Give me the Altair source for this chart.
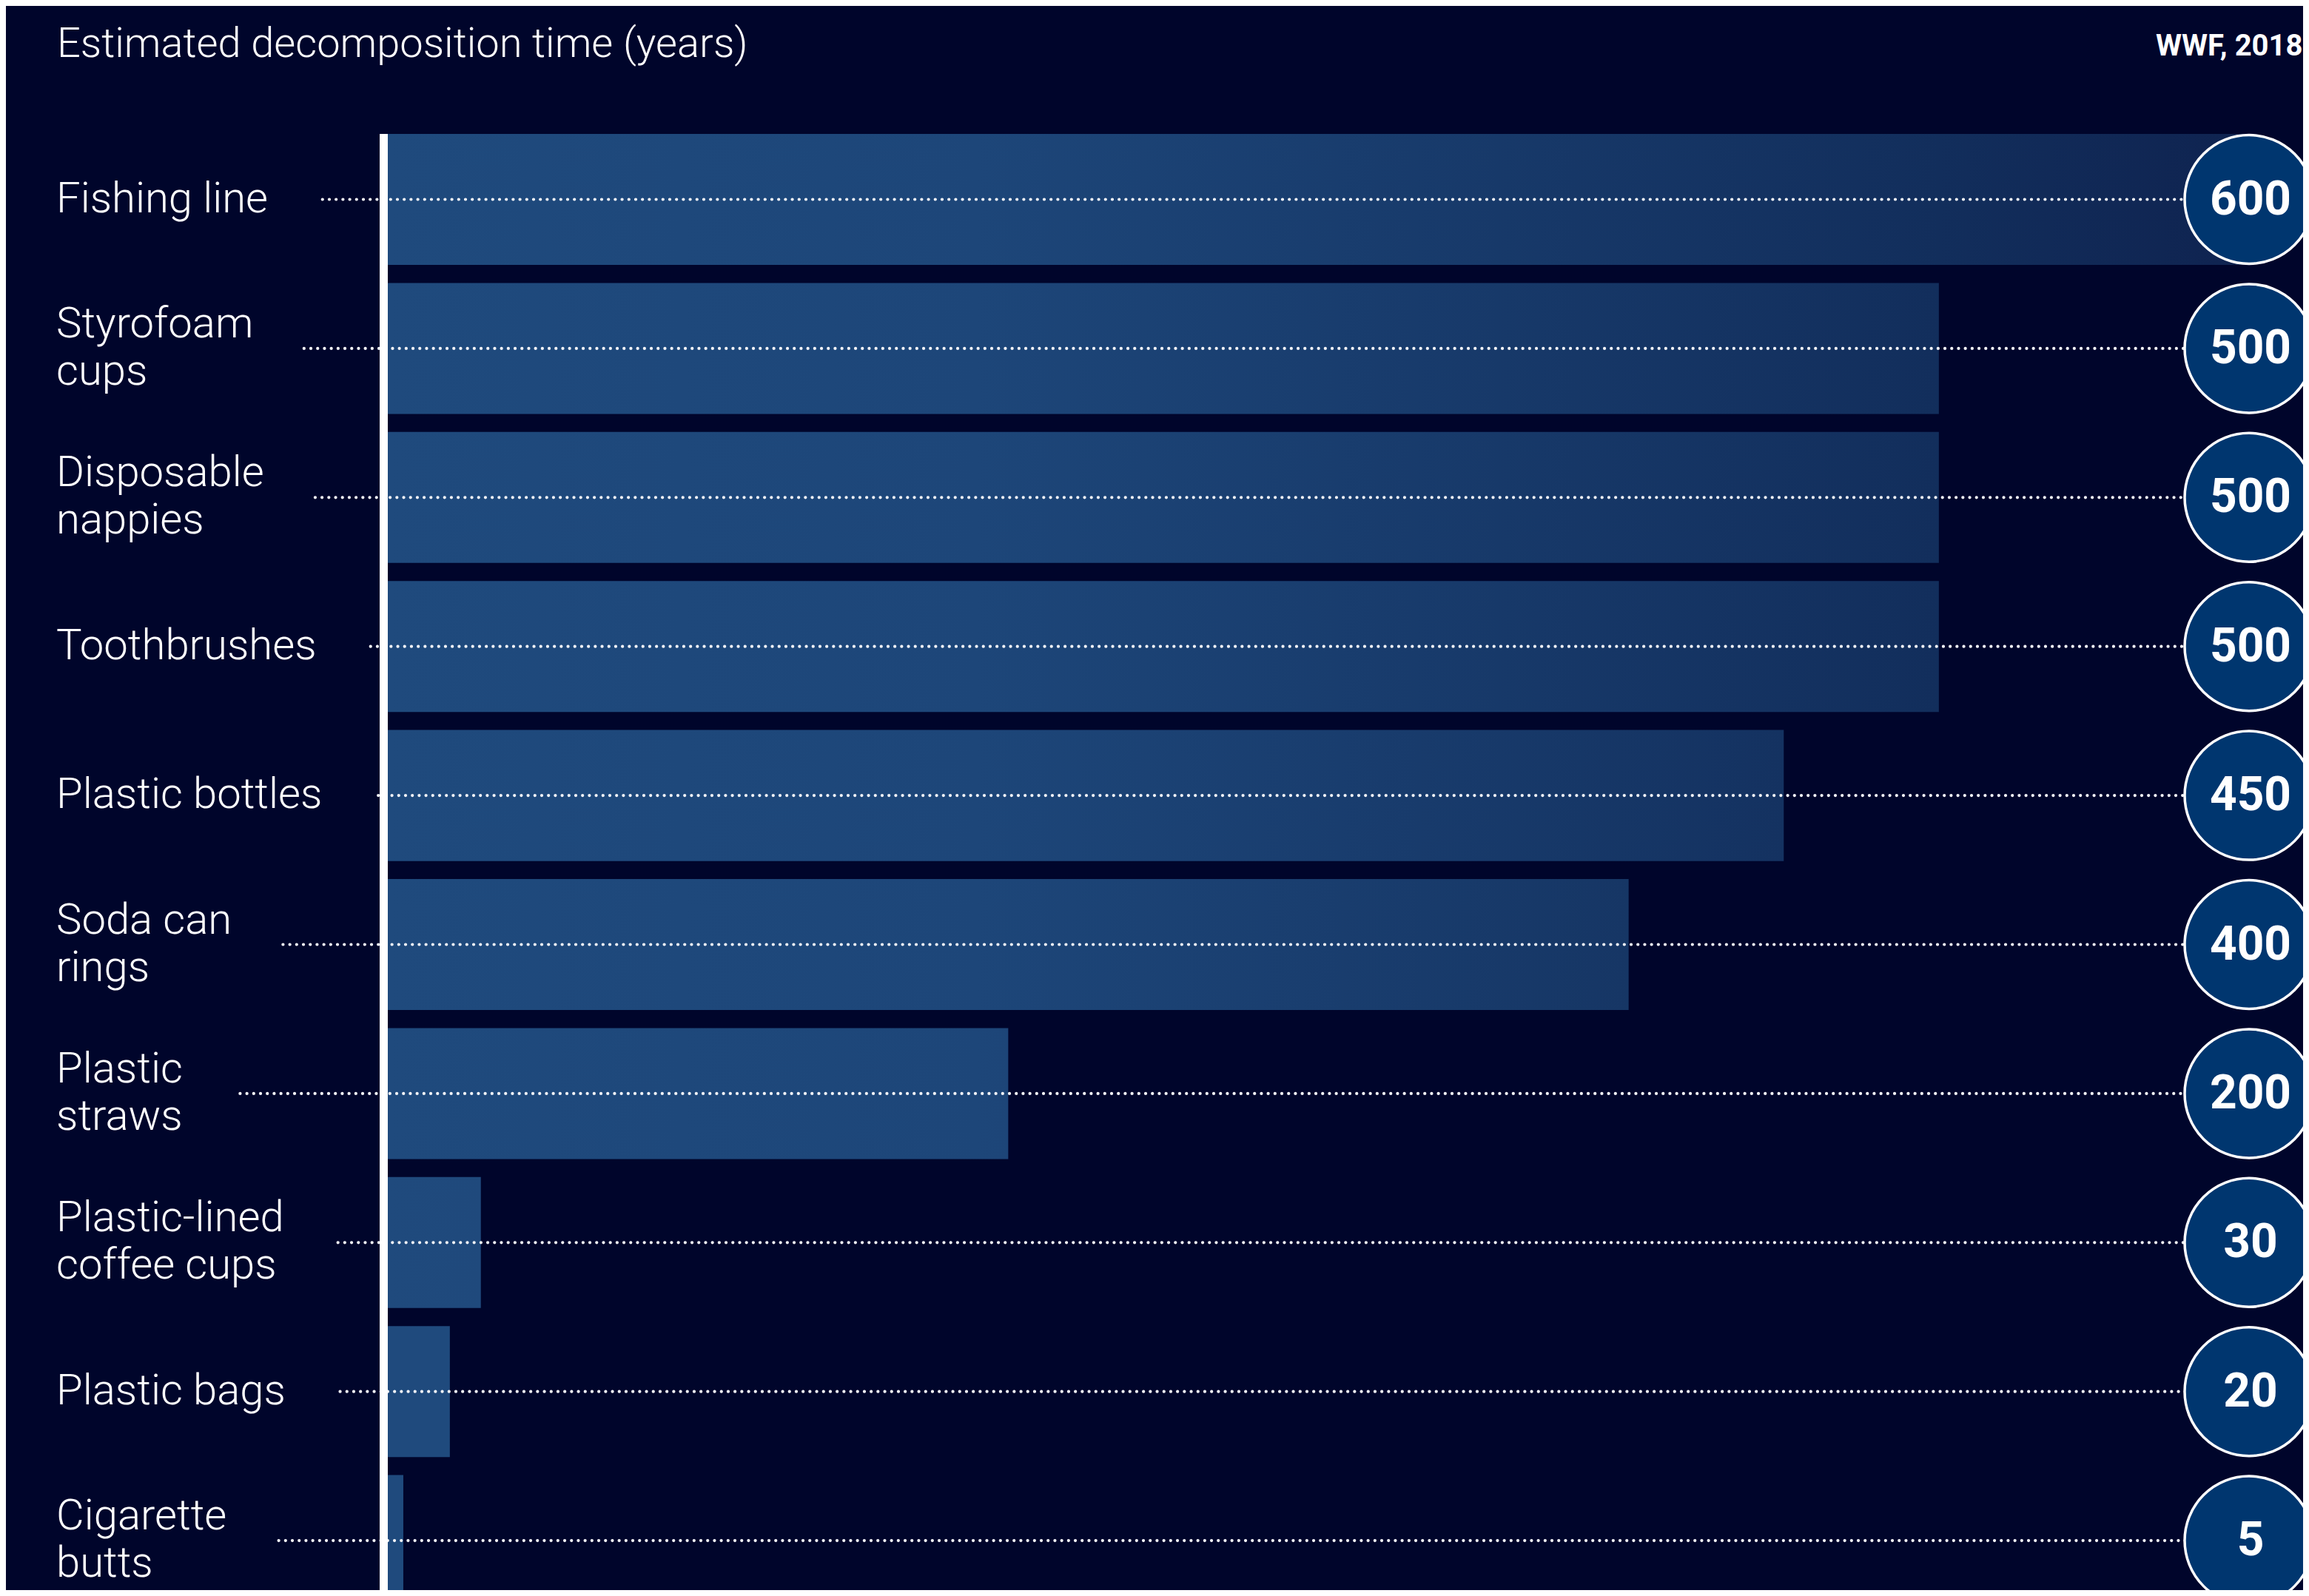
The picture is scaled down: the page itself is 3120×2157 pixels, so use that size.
import altair as alt

# ---------------- data ----------------
items = ["Fishing line", "Styrofoam cups", "Disposable nappies", "Toothbrushes",
         "Plastic bottles", "Soda can rings", "Plastic straws",
         "Plastic-lined coffee cups", "Plastic bags", "Cigarette butts"]
labels = ["Fishing line", "Styrofoam\ncups", "Disposable\nnappies", "Toothbrushes",
          "Plastic bottles", "Soda can\nrings", "Plastic\nstraws",
          "Plastic-lined\ncoffee cups", "Plastic bags", "Cigarette\nbutts"]
years = [600, 500, 500, 500, 450, 400, 200, 30, 20, 5]
title_text = "Estimated decomposition time (years)"
source_text = "WWF, 2018"

# ---------------- layout / style ----------------
W, H = 3104, 2141
BG = "#00052b"
FONT = "Roboto"
X0, X1 = 516, 3031          # pixel range for 0 .. XMAX years
XMAX = 600
px_per_year = (X1 - X0) / XMAX
STEP = 201.4
PAD_IN = 0.121
Y0 = 173 - STEP * PAD_IN / 2
Y1 = Y0 + STEP * len(items)
LABEL_X = 68
LABEL_SIZE = 58
LINE_H = 64
DOT_GAP = 68

grad_stops = [(0, "#1f4a7d"), (190, "#1d4679"), (500, "#122e5c"), (600, "#0f2350")]


def hex2rgb(h):
    h = h.lstrip("#")
    return [int(h[i:i + 2], 16) for i in (0, 2, 4)]


def rgb2hex(c):
    return "#" + "".join(f"{int(round(v)):02x}" for v in c)


def color_at(v):
    for (s0, c0), (s1, c1) in zip(grad_stops[:-1], grad_stops[1:]):
        if s0 <= v <= s1:
            t = (v - s0) / (s1 - s0)
            a, b = hex2rgb(c0), hex2rgb(c1)
            return rgb2hex([a[k] + (b[k] - a[k]) * t for k in range(3)])
    return grad_stops[-1][1]


def gradient_for(v):
    stops = [{"offset": s / v, "color": c} for s, c in grad_stops if s < v]
    stops.append({"offset": 1, "color": color_at(v)})
    return alt.LinearGradient(gradient="linear", x1=0, x2=1, y1=0, y2=0, stops=stops)


def text_width_em(s):
    w = 0.0
    for ch in s:
        if ch in "ilj'":
            w += 0.23
        elif ch in "tf":
            w += 0.33
        elif ch == "r":
            w += 0.34
        elif ch == " ":
            w += 0.25
        elif ch == "-":
            w += 0.28
        elif ch in "mw":
            w += 0.82
        elif ch.isupper():
            w += 0.62
        else:
            w += 0.54
    return w


rows = []
for it, lab, v in zip(items, labels, years):
    lines = lab.split("\n")
    end_px = LABEL_X + max(text_width_em(line) for line in lines) * LABEL_SIZE
    dot = (end_px + DOT_GAP - X0) / px_per_year
    rows.append({"item": it, "label": lab, "years": v, "dot": dot, "nlines": len(lines)})

data = alt.Data(values=rows)
xs = alt.Scale(domain=[0, XMAX], range=[X0, X1], nice=False, zero=False)
ys = alt.Scale(type="band", domain=items, range=[Y0, Y1],
               paddingInner=PAD_IN, paddingOuter=PAD_IN / 2)
Y = alt.Y("item:N", scale=ys, axis=None, sort=items)

base = alt.Chart(data)

bar_layers = []
for it, v in zip(items, years):
    bar_layers.append(
        base.transform_filter(alt.datum.item == it)
        .mark_bar(fill=gradient_for(v), stroke=None)
        .encode(x=alt.X("years:Q", scale=xs, axis=None), y=Y)
    )

dots = base.mark_rule(stroke="#f2f3f7", strokeWidth=4.2, strokeDash=[0.1, 9.1],
                      strokeCap="round").encode(
    x=alt.X("dot:Q", scale=xs, axis=None), x2=alt.datum(XMAX), y=Y)

axis_line = alt.Chart(alt.Data(values=[{"v": 0}])).mark_rule(
    stroke="white", strokeWidth=11, xOffset=-5.5).encode(
    x=alt.X("v:Q", scale=xs, axis=None),
    y=alt.YDatum(items[0], bandPosition=0, scale=ys, axis=None),
    y2=alt.value(H))

circles = base.mark_circle(size=174 * 174, fill="#00366f", stroke="white",
                           strokeWidth=3.5, opacity=1).encode(
    x=alt.datum(XMAX), y=Y)

numbers = base.mark_text(font=FONT, fontWeight="bold", fontSize=64, color="white",
                         align="center", baseline="middle", dx=2, dy=1).encode(
    x=alt.datum(XMAX), y=Y, text="years:Q")

label_style = dict(font=FONT, fontWeight=300, fontSize=LABEL_SIZE, lineHeight=LINE_H,
                   lineBreak="\n", color="white", align="left", baseline="middle")
names_1 = base.transform_filter(alt.datum.nlines == 1).mark_text(**label_style).encode(
    x=alt.value(LABEL_X), y=Y, text="label:N")
names_2 = base.transform_filter(alt.datum.nlines == 2).mark_text(
    dy=-LINE_H / 2, **label_style).encode(
    x=alt.value(LABEL_X), y=Y, text="label:N")

title = alt.Chart(alt.Data(values=[{"t": title_text}])).mark_text(
    font=FONT, fontWeight=300, fontSize=56, color="white", align="left",
    baseline="alphabetic").encode(x=alt.value(69), y=alt.value(69), text="t:N")

source = alt.Chart(alt.Data(values=[{"t": source_text}])).mark_text(
    font=FONT, fontWeight="bold", fontSize=40, color="white", align="left",
    baseline="alphabetic").encode(x=alt.value(2905), y=alt.value(67), text="t:N")

chart = alt.layer(*bar_layers, dots, axis_line, circles, numbers,
                  names_1, names_2, title, source).properties(
    width=W, height=H, padding=0,
    autosize=alt.AutoSizeParams(type="none"),
    background=BG,
).configure_view(stroke=None)

chart.save("out.html", embed_options={"renderer": "svg", "actions": False})
